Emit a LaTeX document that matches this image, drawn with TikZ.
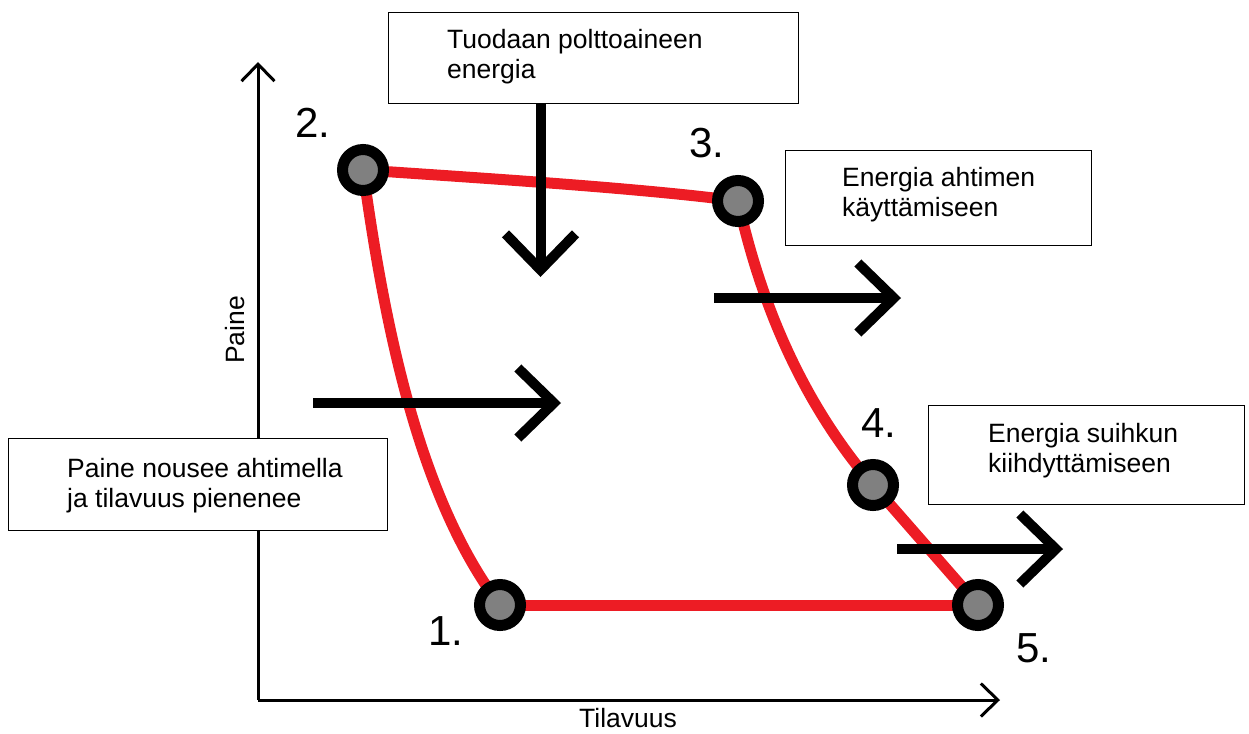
\documentclass[tikz,border=0pt]{standalone}
\usepackage{fontspec}
\setmainfont{Liberation Sans}
\usetikzlibrary{arrows.meta,backgrounds}
\definecolor{cyclered}{RGB}{237,28,36}
\definecolor{dotgray}{RGB}{128,128,128}
\begin{document}
\begin{tikzpicture}[x=1pt,y=-1pt,
  axis/.style={line width=3pt,-{Straight Barb[length=17pt,width=33pt,sharp]}},
  flow/.style={line width=10pt,-{Straight Barb[length=36pt,width=70pt,sharp]}},
  cycleline/.style={cyclered,line width=11pt},
  statept/.style={circle,draw=black,line width=11pt,fill=dotgray,minimum size=41pt,inner sep=0pt},
  infobox/.style={draw=black,line width=1pt,fill=white,anchor=north west,inner sep=0pt},
  infotext/.style={anchor=west,align=left,inner sep=0pt,font=\fontsize{26.5}{30}\selectfont},
  statenum/.style={anchor=base west,inner sep=0pt,font=\fontsize{42}{50}\selectfont}]
\useasboundingbox (0,0) rectangle (1249,733);
% axes
\coordinate (origin) at (258,700);
\coordinate (ytop) at (258,62);
\coordinate (xend) at (1000,700);
\draw[axis] (origin)--(ytop);
\draw[axis] (origin)--(xend);
\node[rotate=90,font=\fontsize{26.5}{30}\selectfont] (ylab) at (235,330) {Paine};
\node[anchor=base,font=\fontsize{26.5}{30}\selectfont] (xlab) at (628,727) {Tilavuus};
% states
\node[statept] (p1) at (500,605) {};
\node[statept] (p2) at (363,170) {};
\node[statept] (p3) at (738,201) {};
\node[statept] (p4) at (873,485) {};
\node[statept] (p5) at (978,605) {};
\begin{scope}[on background layer]
\draw[cycleline] (p2.center) .. controls (480,178) and (640,188) .. (p3.center);
\draw[cycleline] (p2.center) .. controls (385,330) and (420,500) .. (p1.center);
\draw[cycleline] (p3.center) .. controls (760,300) and (800,400) .. (p4.center);
\draw[cycleline] (p4.center)--(p5.center);
\draw[cycleline] (p1.center)--(p5.center);
\end{scope}
\node[statenum] (n1) at (428,645) {1.};
\node[statenum] (n2) at (295,137) {2.};
\node[statenum] (n3) at (689,157) {3.};
\node[statenum] (n4) at (861,437) {4.};
\node[statenum] (n5) at (1016,662) {5.};
% boxes
\node[infobox,minimum width=410pt,minimum height=91pt] (fuel) at (388,12) {};
\node[infotext] (fueltxt) at (447,57) {Tuodaan polttoaineen\\energia};
\node[infobox,minimum width=306pt,minimum height=95pt] (comp) at (785,150) {};
\node[infotext] (comptxt) at (842,195) {Energia ahtimen\\käyttämiseen};
\node[infobox,minimum width=316pt,minimum height=99pt] (jet) at (928,405) {};
\node[infotext] (jettxt) at (988,451) {Energia suihkun\\kiihdyttämiseen};
\node[infobox,minimum width=379pt,minimum height=92pt] (press) at (8,438) {};
\node[infotext] (presstxt) at (67,486) {Paine nousee ahtimella\\ja tilavuus pienenee};
% energy arrows
\coordinate (ina) at (313,403);
\coordinate (inb) at (561,403);
\coordinate (compa) at (714,298);
\coordinate (compb) at (901,298);
\coordinate (jeta) at (897,549);
\coordinate (jetb) at (1063,549);
\draw[flow] ([xshift=-53pt]fuel.south)--++(0,173);
\draw[flow] (ina)--(inb);
\draw[flow] (compa)--(compb);
\draw[flow] (jeta)--(jetb);
\end{tikzpicture}
\end{document}
